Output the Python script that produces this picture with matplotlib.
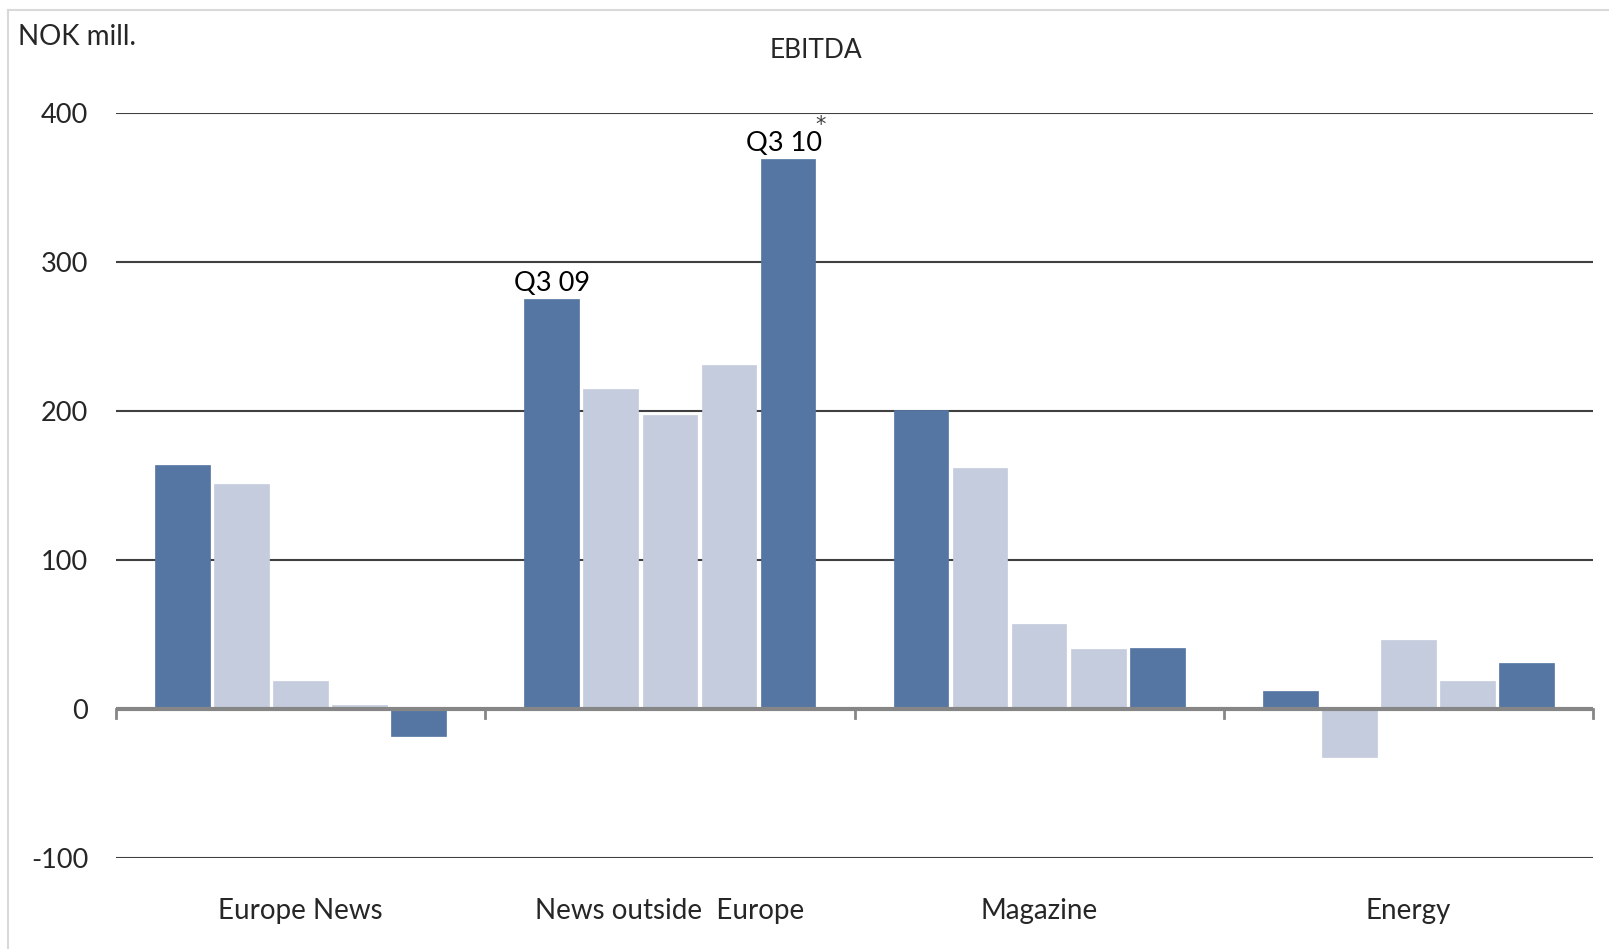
import matplotlib
matplotlib.use("Agg")
import matplotlib.pyplot as plt
import numpy as np

categories = ["Europe News", "News outside  Europe", "Magazine", "Energy"]
q3_09 = [164, 275, 201, 12]
q4_09 = [151, 215, 162, -32]
q1_10 = [19, 197, 57, 46]
q2_10 = [2.5, 231, 40, 19]
q3_10 = [-18, 369, 41, 31]
yticks = [-100, 0, 100, 200, 300, 400]

series = [q3_09, q4_09, q1_10, q2_10, q3_10]
dark = "#5576A3"
light = "#C5CCDD"
colors = [dark, light, light, light, dark]

plt.rcParams['font.family'] = ['Lato', 'DejaVu Sans']

fig = plt.figure(figsize=(16.09, 9.49), dpi=100)
W, H = 1609, 949
ax = fig.add_axes([116 / W, 1 - 858 / H, (1593 - 116) / W, (858 - 113) / H])

step = 0.16
width = 0.148
x = np.arange(len(categories)) + 0.5
for j, (vals, c) in enumerate(zip(series, colors)):
    ax.bar(x + (j - 2) * step, vals, width=width, color=c, zorder=3,
           edgecolor=c, linewidth=0.5)

ax.set_xlim(0, 4)
ax.set_ylim(-100, 400)
ax.set_yticks(yticks)
ax.set_yticklabels([str(t) for t in yticks], fontsize=19.5, color="#262626")
for t in yticks:
    if t != 0:
        ax.axhline(t, color="#404040", linewidth=1.5, zorder=1)
ax.axhline(0, color="#868686", linewidth=3, zorder=4)
ax.tick_params(axis='y', length=0, pad=20)
ax.set_xticks([])
for b in range(5):
    ax.plot([b, b], [0, -6], color="#868686", linewidth=2, zorder=4, clip_on=False)
for s in ax.spines.values():
    s.set_visible(False)

for i, cat in enumerate(categories):
    ax.text(x[i], -135.5, cat, ha='center', va='center', fontsize=20, color="#262626")

ax.text(x[1] - 2 * step, q3_09[1] + 2, "Q3 09", ha='center', va='bottom', fontsize=19.5, color="black")
ax.text(x[1] + 2 * step - 0.01, q3_10[1] + 2, "Q3 10", ha='center', va='bottom', fontsize=19.5, color="black")
ax.text(1.909, 388, "*", ha='center', va='baseline', fontsize=15, color="#404040",
        family=['DejaVu Sans'])

fig.text(18 / W, 1 - 37 / H, "NOK mill.", ha='left', va='center', fontsize=20, color="#262626")
fig.text(816 / W, 1 - 50 / H, "EBITDA", ha='center', va='center', fontsize=19, color="#262626")

# chart frame (left and top edges visible)
fig.add_artist(plt.Line2D([8 / W, 8 / W], [1 - 10 / H, 0], transform=fig.transFigure, color="#D9D9D9", linewidth=1.5))
fig.add_artist(plt.Line2D([8 / W, 1], [1 - 10 / H, 1 - 10 / H], transform=fig.transFigure, color="#D9D9D9", linewidth=1.5))

fig.savefig("out.png", dpi=100, facecolor="white")
